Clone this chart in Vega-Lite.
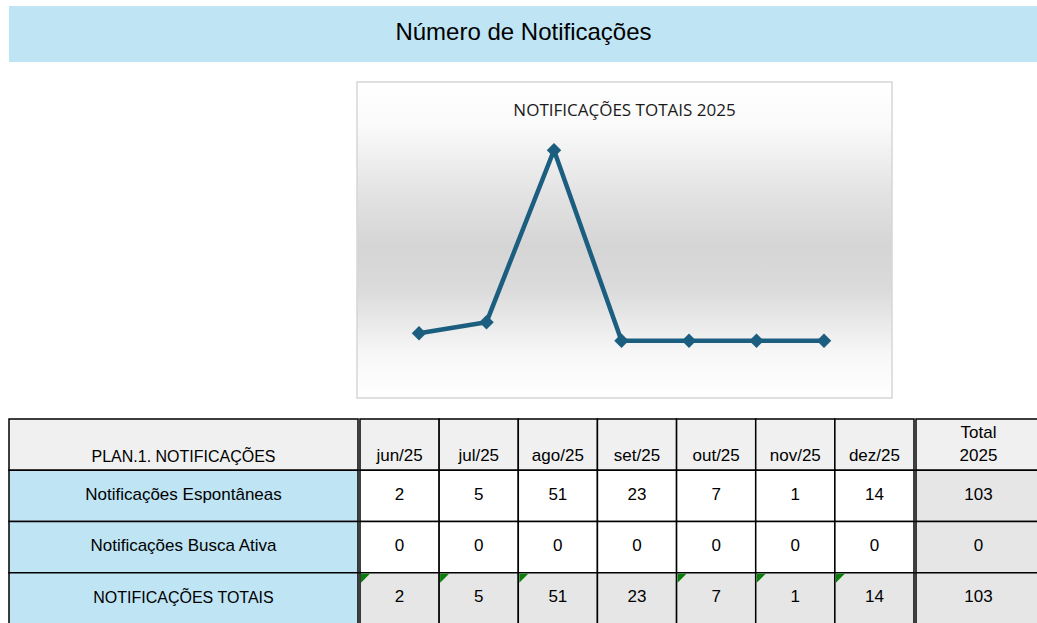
{
  "$schema": "https://vega.github.io/schema/vega-lite/v6.json",
  "padding": {"left": 8, "top": 6, "right": 0, "bottom": 0},
  "background": "#ffffff",
  "spacing": 19,
  "config": {
    "view": {"stroke": null},
    "text": {"font": "Liberation Sans", "color": "#000000"},
    "concat": {"spacing": 0}
  },
  "datasets": {
    "serie": [
      {"mes": "jun/25", "total": 2},
      {"mes": "jul/25", "total": 5},
      {"mes": "ago/25", "total": 51},
      {"mes": "set/25", "total": 0},
      {"mes": "out/25", "total": 0},
      {"mes": "nov/25", "total": 0},
      {"mes": "dez/25", "total": 0}
    ],
    "linhas": [
      {"linha": "PLAN.1. NOTIFICAÇÕES"},
      {"linha": "Notificações Espontâneas"},
      {"linha": "Notificações Busca Ativa"},
      {"linha": "NOTIFICAÇÕES TOTAIS"}
    ],
    "tabela": [
      {"linha": "PLAN.1. NOTIFICAÇÕES", "coluna": "jun/25", "texto": "jun/25"},
      {"linha": "PLAN.1. NOTIFICAÇÕES", "coluna": "jul/25", "texto": "jul/25"},
      {"linha": "PLAN.1. NOTIFICAÇÕES", "coluna": "ago/25", "texto": "ago/25"},
      {"linha": "PLAN.1. NOTIFICAÇÕES", "coluna": "set/25", "texto": "set/25"},
      {"linha": "PLAN.1. NOTIFICAÇÕES", "coluna": "out/25", "texto": "out/25"},
      {"linha": "PLAN.1. NOTIFICAÇÕES", "coluna": "nov/25", "texto": "nov/25"},
      {"linha": "PLAN.1. NOTIFICAÇÕES", "coluna": "dez/25", "texto": "dez/25"},
      {"linha": "PLAN.1. NOTIFICAÇÕES", "coluna": "Total 2025", "texto": "Total\n2025"},
      {"linha": "Notificações Espontâneas", "coluna": "jun/25", "texto": "2"},
      {"linha": "Notificações Espontâneas", "coluna": "jul/25", "texto": "5"},
      {"linha": "Notificações Espontâneas", "coluna": "ago/25", "texto": "51"},
      {"linha": "Notificações Espontâneas", "coluna": "set/25", "texto": "23"},
      {"linha": "Notificações Espontâneas", "coluna": "out/25", "texto": "7"},
      {"linha": "Notificações Espontâneas", "coluna": "nov/25", "texto": "1"},
      {"linha": "Notificações Espontâneas", "coluna": "dez/25", "texto": "14"},
      {"linha": "Notificações Espontâneas", "coluna": "Total 2025", "texto": "103"},
      {"linha": "Notificações Busca Ativa", "coluna": "jun/25", "texto": "0"},
      {"linha": "Notificações Busca Ativa", "coluna": "jul/25", "texto": "0"},
      {"linha": "Notificações Busca Ativa", "coluna": "ago/25", "texto": "0"},
      {"linha": "Notificações Busca Ativa", "coluna": "set/25", "texto": "0"},
      {"linha": "Notificações Busca Ativa", "coluna": "out/25", "texto": "0"},
      {"linha": "Notificações Busca Ativa", "coluna": "nov/25", "texto": "0"},
      {"linha": "Notificações Busca Ativa", "coluna": "dez/25", "texto": "0"},
      {"linha": "Notificações Busca Ativa", "coluna": "Total 2025", "texto": "0"},
      {"linha": "NOTIFICAÇÕES TOTAIS", "coluna": "jun/25", "texto": "2"},
      {"linha": "NOTIFICAÇÕES TOTAIS", "coluna": "jul/25", "texto": "5"},
      {"linha": "NOTIFICAÇÕES TOTAIS", "coluna": "ago/25", "texto": "51"},
      {"linha": "NOTIFICAÇÕES TOTAIS", "coluna": "set/25", "texto": "23"},
      {"linha": "NOTIFICAÇÕES TOTAIS", "coluna": "out/25", "texto": "7"},
      {"linha": "NOTIFICAÇÕES TOTAIS", "coluna": "nov/25", "texto": "1"},
      {"linha": "NOTIFICAÇÕES TOTAIS", "coluna": "dez/25", "texto": "14"},
      {"linha": "NOTIFICAÇÕES TOTAIS", "coluna": "Total 2025", "texto": "103"}
    ]
  },
  "vconcat": [
    {
      "width": 1029,
      "height": 56,
      "view": {"fill": "#bfe4f4", "stroke": null},
      "data": {"values": [{"titulo": "Número de Notificações"}]},
      "mark": {"type": "text", "fontSize": 24, "font": "Liberation Sans", "color": "#000000", "baseline": "middle", "dy": -1},
      "encoding": {"text": {"field": "titulo"}}
    },
    {
      "spacing": 0,
      "hconcat": [
        {
          "width": 347,
          "height": 1,
          "data": {"values": [{"v": 0}]},
          "mark": {"type": "point", "opacity": 0, "size": 0}
        },
        {
          "width": 535,
          "height": 316,
          "data": {"name": "serie"},
          "view": {
            "stroke": "#d6d6d6",
            "strokeWidth": 1.5,
            "fill": {
              "gradient": "linear",
              "x1": 0, "y1": 0, "x2": 0, "y2": 1,
              "stops": [
                {"offset": 0, "color": "#ffffff"},
                {"offset": 0.14, "color": "#fafafa"},
                {"offset": 0.34, "color": "#e4e4e4"},
                {"offset": 0.52, "color": "#d5d5d5"},
                {"offset": 0.66, "color": "#dbdbdb"},
                {"offset": 0.86, "color": "#f7f7f7"},
                {"offset": 1, "color": "#ffffff"}
              ]
            }
          },
          "title": {
            "text": "NOTIFICAÇÕES TOTAIS 2025",
            "font": "Open Sans",
            "fontSize": 17,
            "fontWeight": "normal",
            "color": "#1a1a1a",
            "offset": -38,
            "anchor": "middle",
            "frame": "group"
          },
          "encoding": {
            "x": {"field": "mes", "type": "ordinal", "sort": null, "axis": null, "scale": {"type": "point", "range": [62, 467], "padding": 0}},
            "y": {"field": "total", "type": "quantitative", "axis": null, "scale": {"domain": [-15.3, 69.25], "nice": false, "zero": false}}
          },
          "layer": [
            {"mark": {"type": "line", "color": "#1b5e7f", "strokeWidth": 4.5}},
            {"mark": {"type": "point", "shape": "diamond", "filled": true, "size": 210, "color": "#1b5e7f", "opacity": 1}}
          ]
        }
      ]
    },
    {
      "spacing": 0,
      "hconcat": [
        {
          "width": 349,
          "height": 205,
          "data": {"name": "linhas"},
          "encoding": {
            "y": {"field": "linha", "type": "nominal", "axis": null, "scale": {"domain": ["PLAN.1. NOTIFICAÇÕES", "Notificações Espontâneas", "Notificações Busca Ativa", "NOTIFICAÇÕES TOTAIS"], "paddingInner": 0, "paddingOuter": 0}}
          },
          "layer": [
            {
              "mark": {"type": "rect", "stroke": "#000000", "strokeWidth": 1.5},
              "encoding": {"fill": {"condition": {"test": "datum.linha === 'PLAN.1. NOTIFICAÇÕES'", "value": "#f0f0f0"}, "value": "#bfe4f4"}}
            },
            {
              "transform": [{"filter": "datum.linha === 'Notificações Espontâneas' || datum.linha === 'Notificações Busca Ativa'"}],
              "mark": {"type": "text", "fontSize": 17, "baseline": "middle", "dy": -1},
              "encoding": {"text": {"field": "linha"}}
            },
            {
              "transform": [{"filter": "datum.linha === 'NOTIFICAÇÕES TOTAIS'"}],
              "mark": {"type": "text", "fontSize": 16, "baseline": "middle", "dy": 0},
              "encoding": {"text": {"field": "linha"}}
            },
            {
              "transform": [{"filter": "datum.linha === 'PLAN.1. NOTIFICAÇÕES'"}],
              "mark": {"type": "text", "fontSize": 16, "baseline": "bottom", "dy": 20},
              "encoding": {"text": {"field": "linha"}}
            }
          ]
        },
        {
          "width": 554,
          "height": 205,
          "data": {"name": "tabela"},
          "transform": [{"filter": "datum.coluna !== 'Total 2025'"}],
          "encoding": {
            "x": {"field": "coluna", "type": "nominal", "axis": null, "scale": {"domain": ["jun/25", "jul/25", "ago/25", "set/25", "out/25", "nov/25", "dez/25"], "paddingInner": 0, "paddingOuter": 0}},
            "y": {"field": "linha", "type": "nominal", "axis": null, "scale": {"domain": ["PLAN.1. NOTIFICAÇÕES", "Notificações Espontâneas", "Notificações Busca Ativa", "NOTIFICAÇÕES TOTAIS"], "paddingInner": 0, "paddingOuter": 0}}
          },
          "layer": [
            {
              "mark": {"type": "rect", "stroke": "#000000", "strokeWidth": 1.5},
              "encoding": {"fill": {"condition": [
                {"test": "datum.linha === 'PLAN.1. NOTIFICAÇÕES'", "value": "#f0f0f0"},
                {"test": "datum.linha === 'NOTIFICAÇÕES TOTAIS'", "value": "#e6e6e6"}
              ], "value": "#ffffff"}}
            },
            {
              "transform": [{"filter": "datum.linha !== 'PLAN.1. NOTIFICAÇÕES'"}],
              "mark": {"type": "text", "fontSize": 17, "baseline": "middle", "dy": -1},
              "encoding": {"text": {"field": "texto"}}
            },
            {
              "transform": [{"filter": "datum.linha === 'PLAN.1. NOTIFICAÇÕES'"}],
              "mark": {"type": "text", "fontSize": 17, "baseline": "bottom", "dy": 20},
              "encoding": {"text": {"field": "texto"}}
            },
            {
              "transform": [{"filter": "datum.linha === 'NOTIFICAÇÕES TOTAIS' && datum.coluna !== 'set/25'"}],
              "mark": {"type": "point", "shape": "M0,0L1,0L0,1Z", "filled": true, "color": "#0a7d0a", "size": 320, "opacity": 1, "strokeWidth": 0, "xOffset": 1, "yOffset": 1},
              "encoding": {
                "x": {"field": "coluna", "type": "nominal", "bandPosition": 0},
                "y": {"field": "linha", "type": "nominal", "bandPosition": 0}
              }
            }
          ]
        },
        {
          "width": 125,
          "height": 205,
          "data": {"name": "tabela"},
          "transform": [{"filter": "datum.coluna === 'Total 2025'"}],
          "encoding": {
            "x": {"field": "coluna", "type": "nominal", "axis": null, "scale": {"domain": ["Total 2025"], "paddingInner": 0, "paddingOuter": 0}},
            "y": {"field": "linha", "type": "nominal", "axis": null, "scale": {"domain": ["PLAN.1. NOTIFICAÇÕES", "Notificações Espontâneas", "Notificações Busca Ativa", "NOTIFICAÇÕES TOTAIS"], "paddingInner": 0, "paddingOuter": 0}}
          },
          "layer": [
            {
              "mark": {"type": "rect", "stroke": "#000000", "strokeWidth": 1.5},
              "encoding": {"fill": {"condition": {"test": "datum.linha === 'PLAN.1. NOTIFICAÇÕES'", "value": "#f0f0f0"}, "value": "#e6e6e6"}}
            },
            {
              "transform": [{"filter": "datum.linha !== 'PLAN.1. NOTIFICAÇÕES'"}],
              "mark": {"type": "text", "fontSize": 17, "baseline": "middle", "dy": -1},
              "encoding": {"text": {"field": "texto"}}
            },
            {
              "transform": [{"filter": "datum.linha === 'PLAN.1. NOTIFICAÇÕES'"}],
              "mark": {"type": "text", "fontSize": 17, "baseline": "bottom", "dy": -3, "lineBreak": "\n", "lineHeight": 23},
              "encoding": {"text": {"field": "texto"}}
            }
          ]
        }
      ]
    }
  ]
}
